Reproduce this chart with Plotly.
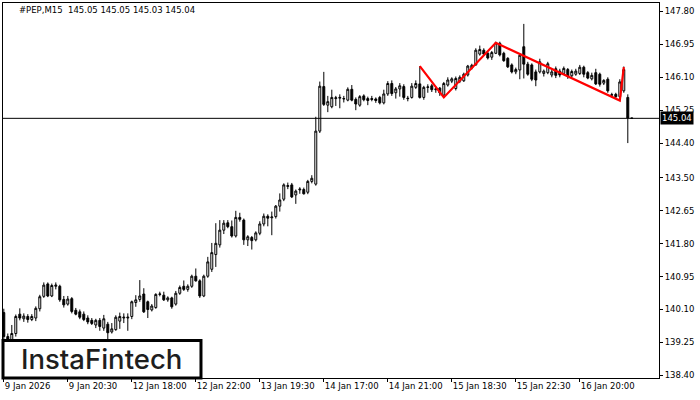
import plotly.graph_objects as go

# ---- data ----
opens = [140.02,139.40,139.32,139.48,139.98,139.86,139.92,139.84,139.88,140.12,
         140.44,140.76,140.45,140.70,140.70,140.36,140.24,140.38,140.08,140.04,
         139.98,139.88,139.82,139.70,139.82,139.62,139.72,139.52,139.58,139.80,
         139.88,139.88,139.92,140.28,140.36,140.50,140.30,140.09,140.15,140.49,
         140.47,140.35,140.40,140.24,140.52,140.70,140.62,140.70,140.96,140.84,
         140.45,140.96,141.14,141.52,141.77,142.15,142.34,142.24,142.00,142.48,
         142.41,141.90,141.96,141.90,142.07,142.31,142.51,142.47,142.50,142.77,
         142.95,143.28,143.32,143.06,143.19,143.20,143.13,143.41,143.34,144.71,
         145.86,145.38,145.34,145.55,145.56,145.54,145.51,145.79,145.53,145.38,
         145.62,145.55,145.55,145.54,145.58,145.44,145.67,145.94,145.70,145.80,
         145.86,145.56,145.58,145.84,145.93,145.58,145.84,145.88,145.78,145.82,
         145.64,145.90,146.00,145.81,146.00,146.01,146.16,146.34,146.42,146.70,
         146.80,146.72,146.62,146.72,146.98,146.72,146.59,146.42,146.24,146.29,
         146.89,146.44,146.42,146.24,146.24,146.20,146.22,146.16,146.32,146.26,
         146.20,146.30,146.14,146.18,146.20,146.36,146.22,146.06,146.22,146.18,
         145.95,146.05,145.64,145.66,145.60,145.75,145.58,145.05]
highs = [140.12,139.48,139.70,139.97,140.13,140.00,139.98,139.98,140.18,140.48,
         140.80,140.80,140.77,140.80,140.74,140.45,140.45,140.42,140.14,140.10,
         140.05,139.95,139.88,139.86,139.88,139.96,139.78,139.75,139.95,140.02,
         140.00,140.00,140.33,140.47,140.86,140.65,140.33,140.24,140.52,140.56,
         140.56,140.44,140.43,140.58,140.72,140.85,140.75,141.00,141.16,140.88,
         141.00,141.46,141.82,142.33,142.41,142.41,142.41,142.40,142.65,142.60,
         142.45,142.02,142.00,142.12,142.38,142.58,142.56,142.63,142.80,143.10,
         143.36,143.38,143.37,143.20,143.26,143.25,143.45,143.57,145.08,145.99,
         146.24,145.62,145.78,145.62,145.66,145.62,145.84,145.90,145.58,145.64,
         145.66,145.60,145.62,145.58,145.62,145.78,146.00,146.02,145.85,145.95,
         145.92,145.62,145.95,146.02,146.39,145.88,145.92,145.93,145.86,145.85,
         145.98,146.10,146.10,146.12,146.15,146.22,146.42,146.45,146.85,146.92,
         146.85,146.76,146.78,147.02,147.02,146.76,146.62,146.46,146.35,146.72,
         147.48,146.50,146.46,146.30,146.58,146.30,146.50,146.30,146.38,146.32,
         146.38,146.34,146.30,146.32,146.42,146.40,146.26,146.22,146.32,146.22,
         146.05,146.10,145.70,145.70,146.05,146.38,145.66,145.05]
lows = [139.20,139.25,139.28,139.40,139.82,139.78,139.76,139.80,139.80,140.05,
        140.40,140.42,140.42,140.62,140.30,140.15,140.20,140.00,139.95,139.85,
        139.80,139.72,139.70,139.62,139.55,139.55,139.30,139.48,139.55,139.60,
        139.75,139.55,139.85,140.17,140.30,140.01,139.88,140.05,140.12,140.44,
        140.32,140.30,140.12,140.20,140.48,140.58,140.56,140.66,140.82,140.40,
        140.42,140.92,141.07,141.20,141.70,142.05,142.20,141.96,141.96,142.37,
        141.77,141.74,141.65,141.86,142.02,142.25,142.25,142.02,142.45,142.63,
        142.90,143.21,142.98,142.83,143.09,143.07,143.08,143.36,143.30,144.66,
        145.36,145.20,145.30,145.36,145.30,145.45,145.48,145.48,145.25,145.34,
        145.48,145.38,145.48,145.44,145.40,145.40,145.62,145.62,145.55,145.60,
        145.52,145.48,145.55,145.80,145.55,145.52,145.70,145.72,145.70,145.62,
        145.58,145.86,145.95,145.76,145.95,145.98,146.12,146.30,146.40,146.66,
        146.66,146.56,146.55,146.70,146.64,146.50,146.34,146.20,146.18,146.05,
        146.07,146.14,146.00,145.87,146.20,146.12,146.18,146.10,146.08,146.10,
        146.16,146.06,146.10,146.14,146.16,146.10,146.05,146.02,145.90,145.86,
        145.90,145.70,145.58,145.55,145.50,145.70,144.40,145.03]
closes = [139.40,139.32,139.48,139.92,139.88,139.93,139.84,139.92,140.13,140.43,
          140.73,140.45,140.72,140.73,140.35,140.22,140.37,140.05,139.98,139.90,
          139.84,139.78,139.74,139.82,139.66,139.86,139.50,139.60,139.90,139.92,
          139.90,139.90,140.30,140.35,140.45,140.04,140.10,140.19,140.49,140.50,
          140.35,140.40,140.17,140.52,140.67,140.62,140.70,140.96,140.84,140.45,
          140.96,141.33,141.57,141.81,142.15,142.33,142.24,142.00,142.48,142.43,
          141.90,141.98,141.88,142.08,142.31,142.51,142.46,142.49,142.77,142.93,
          143.32,143.30,143.01,143.16,143.21,143.09,143.41,143.49,144.71,145.87,
          145.40,145.47,145.58,145.57,145.58,145.55,145.79,145.51,145.41,145.60,
          145.52,145.50,145.53,145.50,145.44,145.67,145.94,145.68,145.80,145.88,
          145.58,145.55,145.87,145.94,145.58,145.84,145.85,145.78,145.80,145.70,
          145.94,146.03,146.06,146.07,146.10,146.18,146.39,146.41,146.80,146.82,
          146.70,146.60,146.74,146.99,146.68,146.53,146.37,146.24,146.30,146.67,
          146.44,146.18,146.05,146.03,146.50,146.26,146.45,146.24,146.15,146.16,
          146.33,146.12,146.25,146.26,146.36,146.18,146.08,146.15,145.93,145.92,
          146.02,145.75,145.65,145.60,145.98,146.30,145.05,145.04]

session_days = ["2026-01-09", "2026-01-12", "2026-01-13", "2026-01-14",
                "2026-01-15", "2026-01-16", "2026-01-20"]

tick_times = ["2026-01-09 16:30", "2026-01-09 20:30", "2026-01-12 18:00",
              "2026-01-12 22:00", "2026-01-13 19:30", "2026-01-14 17:00",
              "2026-01-14 21:00", "2026-01-15 18:30", "2026-01-15 22:30",
              "2026-01-16 20:00"]
tick_labels = ["9 Jan 2026", "9 Jan 20:30", "12 Jan 18:00", "12 Jan 22:00",
               "13 Jan 19:30", "14 Jan 17:00", "14 Jan 21:00", "15 Jan 18:30",
               "15 Jan 22:30", "16 Jan 20:00"]

price_ticks = [138.40, 139.25, 140.10, 140.95, 141.80, 142.65,
               143.50, 144.40, 145.25, 146.10, 146.95, 147.80]

pattern_bars = [104, 110, 123, 154, 155]
pattern_prices = [146.39, 145.58, 146.99, 145.50, 146.36]

current_price = 145.04
title_text = "#PEP,M15\u00a0 145.05 145.05 145.03 145.04"
logo_text = "InstaFintech"

# ---- M15 session timestamps (16:30 - 22:45) ----
times = []
for d in session_days:
    for k in range(26):
        mins = 16 * 60 + 30 + 15 * k
        times.append(f"{d} {mins // 60:02d}:{mins % 60:02d}")
times = times[:len(opens)]
pattern_x = [times[i] for i in pattern_bars]

FONT = "DejaVu Sans"

fig = go.Figure()
fig.add_trace(go.Candlestick(
    x=times, open=opens, high=highs, low=lows, close=closes,
    increasing=dict(fillcolor="white", line=dict(color="black", width=1)),
    decreasing=dict(fillcolor="black", line=dict(color="black", width=1)),
    whiskerwidth=0, showlegend=False, hoverinfo="skip",
))
fig.add_trace(go.Scatter(
    x=pattern_x, y=pattern_prices, mode="lines",
    line=dict(color="#ff0000", width=2.2), showlegend=False, hoverinfo="skip",
))

fig.add_hline(y=current_price, line=dict(color="black", width=1))

fig.update_layout(
    width=700, height=400,
    margin=dict(l=3, r=41, t=3, b=22, autoexpand=False),
    paper_bgcolor="white", plot_bgcolor="white",
    font=dict(family=FONT, size=8.5, color="black"),
    showlegend=False,
    xaxis=dict(
        type="category", range=[-0.2, 163.8], rangeslider=dict(visible=False),
        tickmode="array", tickvals=tick_times, ticktext=tick_labels,
        ticks="outside", ticklen=3, tickcolor="black", tickwidth=1,
        ticklabelposition="outside right",
        showline=True, linecolor="black", linewidth=1, mirror=True,
        showgrid=False, zeroline=False, tickangle=0,
    ),
    yaxis=dict(
        side="right", range=[138.33, 148.02],
        tickmode="array", tickvals=price_ticks,
        ticktext=[f"{v:.2f}" for v in price_ticks],
        ticks="outside", ticklen=3, tickcolor="black", tickwidth=1,
        showline=True, linecolor="black", linewidth=1, mirror=True,
        showgrid=False, zeroline=False,
    ),
)

# current price tag
fig.add_annotation(
    x=1, xref="paper", y=current_price, yref="y",
    text="145.04", showarrow=False, xanchor="left", yanchor="middle",
    xshift=1, bgcolor="black", font=dict(color="white", size=8.5, family=FONT),
    borderpad=1,
)

# symbol header
fig.add_annotation(
    x=0.021, xref="paper", y=0.981, yref="paper", text=title_text,
    showarrow=False, xanchor="left", yanchor="middle",
    font=dict(size=8.5, family=FONT, color="black"),
)

# logo box
fig.add_shape(type="rect", xref="paper", yref="paper",
              x0=0.0, x1=0.3018, y0=0.0, y1=0.1,
              fillcolor="white", line=dict(color="black", width=3), layer="above")
fig.add_annotation(
    x=0.1505, xref="paper", y=0.05, yref="paper", text=logo_text,
    showarrow=False, xanchor="center", yanchor="middle",
    font=dict(size=27.5, family="Inter", color="#1e1e1e", weight=500),
)

fig.write_html("out.html", config={"displayModeBar": False},
               post_script="document.body.style.margin='0px';")
